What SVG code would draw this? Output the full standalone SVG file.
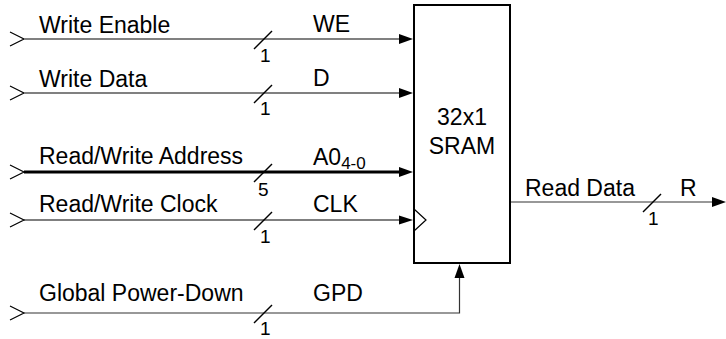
<svg xmlns="http://www.w3.org/2000/svg" width="726" height="339" viewBox="0 0 726 339">
<style>
text{font-family:"Liberation Sans",Arial,sans-serif;fill:#000}
.lb{font-size:23px}
.sm{font-size:19px}
.sub{font-size:17px}
.chev{fill:none;stroke:#000;stroke-width:1.2}
.sl{stroke:#000;stroke-width:1.5}
.g{stroke:#808080;stroke-width:2;fill:none}
.k1{stroke:#000;stroke-width:1.2;fill:none}
.k3{stroke:#000;stroke-width:3;fill:none}
.ah{fill:#000}
</style>
<rect width="726" height="339" fill="#fff"/>
<g id="connectors">
  <polyline class="chev" points="10,32 24,39 10,46"/>
  <line class="g" x1="24" y1="39" x2="402" y2="39"/>
  <polygon class="ah" points="399,34 413,39 399,44"/>
  <line class="sl" x1="254" y1="49" x2="272" y2="31"/>
  <polyline class="chev" points="10,86 24,93 10,100"/>
  <line class="g" x1="24" y1="93" x2="402" y2="93"/>
  <polygon class="ah" points="399,88 413,93 399,98"/>
  <line class="sl" x1="254" y1="103" x2="272" y2="85"/>
  <polyline class="chev" points="10,165 24,172 10,179"/>
  <line class="k3" x1="24" y1="172" x2="402" y2="172"/>
  <polygon class="ah" points="399,167 413,172 399,177"/>
  <line class="sl" x1="254" y1="182" x2="272" y2="164"/>
  <polyline class="chev" points="10,213 24,220 10,227"/>
  <line class="k1" x1="24" y1="220" x2="402" y2="220"/>
  <polygon class="ah" points="399,215.5 413,220 399,224.5"/>
  <line class="sl" x1="254" y1="230" x2="272" y2="212"/>
  <polyline class="chev" points="10,306 24,313 10,320"/>
  <polyline class="k1" style="stroke:#333" points="24,313 459.5,313 459.5,276"/>
  <polygon class="ah" points="454.5,278 459.5,264 464.5,278"/>
  <line class="sl" x1="254" y1="323" x2="272" y2="305"/>
  <line class="k1" style="stroke:#333" x1="510" y1="202" x2="715" y2="202"/>
  <polygon class="ah" points="712,197 726,202 712,207"/>
  <line class="sl" x1="643" y1="212" x2="661" y2="194"/>
</g>
<g id="sram">
  <rect x="414" y="5" width="96" height="258" fill="none" stroke="#000" stroke-width="2"/>
  <polyline class="k1" points="414,209 426,220 414,231"/>
  <text class="lb" x="462" y="125" text-anchor="middle">32x1</text>
  <text class="lb" x="462" y="154" text-anchor="middle">SRAM</text>
</g>
<g id="labels">
  <text class="lb" x="39" y="33">Write Enable</text>
  <text class="lb" x="313" y="32">WE</text>
  <text class="sm" x="260" y="62">1</text>
  <text class="lb" x="39" y="87">Write Data</text>
  <text class="lb" x="313" y="86">D</text>
  <text class="sm" x="260" y="115">1</text>
  <text class="lb" x="39" y="164">Read/Write Address</text>
  <text class="lb" x="313" y="165">A0<tspan class="sub" dy="4">4-0</tspan></text>
  <text class="sm" x="258" y="196">5</text>
  <text class="lb" x="39" y="212">Read/Write Clock</text>
  <text class="lb" x="313" y="212">CLK</text>
  <text class="sm" x="260" y="243">1</text>
  <text class="lb" x="39" y="301">Global Power-Down</text>
  <text class="lb" x="313" y="301">GPD</text>
  <text class="sm" x="260" y="335">1</text>
  <text class="lb" x="525" y="196">Read Data</text>
  <text class="lb" x="680" y="196">R</text>
  <text class="sm" x="648" y="225">1</text>
</g>
</svg>
